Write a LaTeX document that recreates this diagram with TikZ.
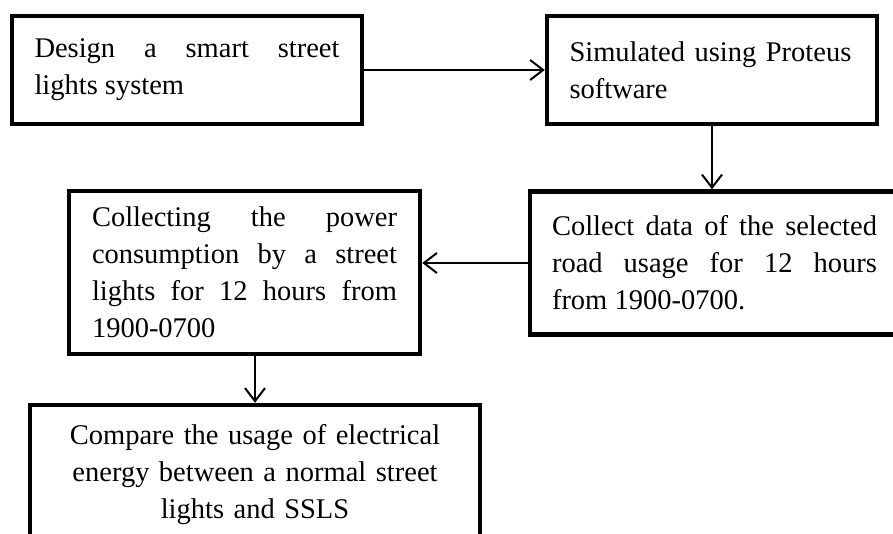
\documentclass[tikz,border=0pt]{standalone}
\usepackage{fontspec}
\setmainfont{Liberation Serif}
\usetikzlibrary{arrows.meta}
\hyphenpenalty=10000

\begin{document}
\begin{tikzpicture}[x=1pt,y=1pt]
\useasboundingbox (0,0) rectangle (893,-534);
\clip (0,0) rectangle (893,-534);
\begin{scope}[every node/.style={rectangle,draw,line width=4.5pt,inner ysep=0pt,
                                 font=\fontsize{28.5}{37}\selectfont}]
    \node[text width=305pt,inner xsep=22.5pt,minimum height=108pt,align=justify] (design) at (187,-70)
        {Design a smart street\linebreak lights system};
    \node[text width=285pt,inner xsep=22.5pt,minimum height=108pt,align=left] (simulate) at (712,-70)
        {Simulated using Proteus\\ software};
    \node[text width=325pt,inner xsep=22pt,minimum height=143pt,align=justify] (roaddata) at (714.5,-263)
        {Collect data of the selected\linebreak road usage for 12 hours\linebreak from 1900-0700.};
    \node[text width=305pt,inner xsep=23pt,minimum height=163pt,align=justify] (power) at (244.5,-272.5)
        {Collecting the power\linebreak consumption by a street\linebreak lights for 12 hours from\linebreak 1900-0700};
    \node[text width=420pt,inner xsep=15pt,minimum height=140pt,align=center] (compare) at (255,-475)
        {Compare the usage of electrical\\ energy between a normal street\\ lights and SSLS};
\end{scope}

\begin{scope}[>={Straight Barb[length=13pt,width=20pt]},
              every edge/.style={draw=black,line width=2pt}]
    \path [->] (design) edge (simulate);
    \path [->] (simulate.south) edge (simulate.south |- roaddata.north);
    \path [->] (roaddata.west) edge (roaddata.west -| power.east);
    \path [->] (power.south -| compare.north) edge (compare.north);
\end{scope}
\end{tikzpicture}
\end{document}
